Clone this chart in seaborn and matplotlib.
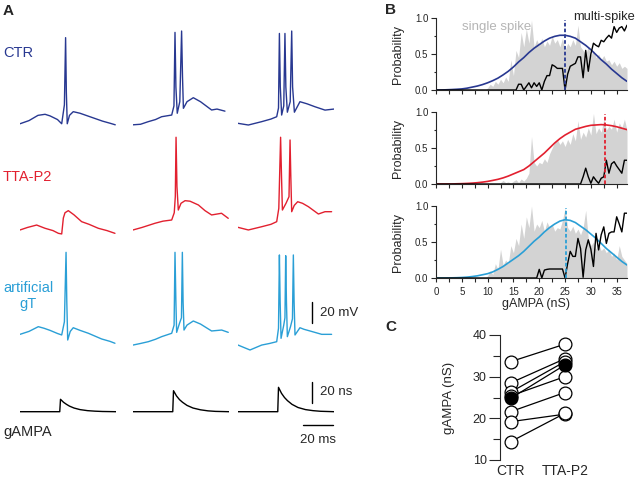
import numpy as np
import pandas as pd
import seaborn as sns
import matplotlib.pyplot as plt

W, H = 640, 479

# colours
c_ctr = "#283891"
c_tta = "#e2202f"
c_art = "#2a9fd6"
c_grey = "#d3d3d3"

# ---------------- panel A: example traces (t in ms, Vm in mV) ----------------
ctr_t = [
    [0, 6, 12, 16.7, 20, 25, 27.8, 29.6, 30.4, 30.9, 31.5, 33, 35.5, 40, 45, 50, 55, 60, 63.5],
    [0, 5, 10.2, 15, 19.1, 25.8, 27.3, 28, 28.6, 29.5, 31.2, 32.4, 33, 33.6, 36, 40.2, 45, 52.4, 56, 61.3],
    [0, 6.9, 15.8, 22, 25.8, 27.0, 27.6, 28.2, 29.1, 30.5, 31.3, 31.9, 32.9, 34.8, 35.8, 36.4, 37.6,
     41.3, 46, 51.3, 58, 64],
]
ctr_v = [
    [-75, -72, -67, -66, -67.5, -71, -75, -57, 7, -45, -75, -67, -63.5, -65, -67.5, -70, -72.5, -74.5, -76],
    [-76, -75.5, -73, -71, -68.3, -66.7, -58, 12, -40, -65, -54, 13.3, -30, -60.3, -54, -50.2, -54, -61.9, -61, -63],
    [-74.6, -76.2, -73, -70.5, -68.3, -60, 11, -40, -66.7, -58, 11, -40, -64, -54, 13.3, -40, -64,
     -54, -56, -58.8, -62, -61],
]
tta_t = [
    [0, 5, 11.1, 16.7, 22, 25.6, 27.8, 28.9, 30, 32.2, 36, 41.1, 46, 52.2, 58, 63.3],
    [0, 6, 14.7, 20, 25.8, 27.5, 28.2, 28.7, 29.3, 30.2, 32, 34.7, 38, 43.6, 48, 52.4, 59, 63.5],
    [0, 6.9, 15.8, 22, 25.8, 27.2, 28.4, 29.0, 29.6, 32, 34.0, 34.7, 35.2, 35.8, 37.5, 39.8, 43,
     46.9, 53.6, 58, 62.4],
]
tta_v = [
    [-71.4, -69, -66.7, -69.8, -72, -74.6, -75.2, -60, -55, -53, -57, -63.5, -66, -69.8, -72, -74.6],
    [-71.4, -69, -65, -63, -61.9, -55, -39.7, 16.9, -30, -52.4, -46, -43.5, -44, -47.6, -53, -57.1, -55.5, -60.3],
    [-68.9, -71.4, -68.3, -66, -63.5, -50.8, 16.9, -20, -52.4, -46, -39.7, 14.3, -20, -54, -48, -44.5, -46,
     -49.2, -56.2, -54, -54],
]
art_t = [
    [0, 6, 12.2, 16, 20, 25, 27.8, 29.6, 30.7, 31.2, 31.8, 33.5, 35.5, 40, 45.6, 50, 54.4, 60, 63.3],
    [0, 5, 10.2, 15, 19.1, 25.8, 27.4, 28.0, 28.6, 29.1, 31, 32.3, 32.9, 33.4, 34, 36, 40.2, 45, 52.4,
     59.1, 63.5],
    [0, 8, 15.8, 21, 25.8, 27.0, 27.6, 28.1, 28.7, 30.5, 31.3, 31.8, 32.3, 32.9, 35, 36.3, 36.9, 37.4,
     38, 41.3, 44, 48, 55.8, 62.4],
]
art_v = [
    [-70.8, -68, -63.5, -65, -67, -70, -71.4, -58.8, 7.3, -40, -76.2, -68, -64.5, -67, -69.8, -72.5, -75.2, -77.5, -79.3],
    [-81, -79.5, -77.8, -75.5, -73, -69.8, -62, 7.3, -40, -68.9, -60.3, -55, 7.3, -40, -66.7, -62, -58.1, -61, -67.6,
     -66.7, -68.9],
    [-81, -85.7, -81, -79.5, -77.8, -65, 4.8, -40, -74.6, -62, -55, 4.1, -40, -73, -63.5, -56, 4.8, -40,
     -71.4, -64.5, -66, -67.6, -70.8, -70.8],
]
# injected AMPA conductance (nS)
gampa_t = [0, 26.5, 27, 29, 31, 33, 36, 40, 45, 50, 55, 64]
gampa_g = [
    [0, 0, 11.8, 9, 7, 5.3, 3.5, 2, 1, 0.5, 0.2, 0],
    [0, 0, 20, 15, 11.5, 9, 6, 3.5, 1.8, 0.8, 0.3, 0],
    [0, 0, 23.2, 17.5, 13.5, 10.5, 7, 4, 2, 1, 0.4, 0],
]

# ---------------- panel B: spike probabilities vs gAMPA ----------------
prob_x = np.arange(0, 37.5, 0.5)
ctr_single = [0] * 20 + [
    0.03, 0.08, 0.05, 0.12, 0.08, 0.15, 0.10, 0.18, 0.12, 0.42,
    0.20, 0.55, 0.45, 0.80, 0.60, 0.85, 0.65, 0.97, 0.60, 0.70,
    0.62, 0.72, 0.60, 0.68, 0.62, 0.75, 0.65, 0.70, 0.60, 0.72,
    0.55, 0.65, 0.60, 0.70, 0.62, 0.90, 0.60, 0.55, 0.50, 0.60,
    0.48, 0.55, 0.45, 0.50, 0.42, 0.48, 0.40, 0.42, 0.35, 0.40,
    0.33, 0.38, 0.30, 0.33, 0.30]
ctr_multi = [0] * 31 + [
    0, 0.08, 0.08, 0, 0.05, 0.10, 0.03, 0.10, 0.05,
    0.10, 0, 0.12, 0.20, 0.20, 0.35, 0.33, 0.30, 0.30, 0.30,
    0, 0.22, 0.33, 0.35, 0.37, 0.46, 0.46, 0.17, 0.55, 0.26,
    0.50, 0.65, 0.62, 0.60, 0.69, 0.67, 0.72, 0.76, 0.72, 0.88,
    0.80, 0.86, 0.88, 0.82, 0.90]
tta_single = [0] * 25 + [
    0.02, 0.05, 0.02, 0.03, 0.01,
    0.04, 0.06, 0.02, 0.07, 0.04, 0.08, 0.15, 0.66, 0.30, 0.25,
    0.30, 0.28, 0.35, 0.30, 0.42, 0.50, 0.58, 0.62, 0.55, 0.60,
    0.52, 0.62, 0.55, 0.70, 0.60, 0.88, 0.62, 0.72, 0.65, 0.78,
    0.68, 0.98, 0.70, 0.78, 0.72, 0.90, 0.75, 0.80, 0.76, 0.90,
    0.72, 0.85, 0.78, 0.90, 0.75]
tta_multi = [0] * 57 + [
    0.10, 0.22, 0.10, 0.01, 0.10, 0.05, 0.01, 0.08, 0.10,
    0.33, 0.15, 0.28, 0.31, 0.25, 0.20, 0.15, 0.33, 0.33]
art_single = [0] * 20 + [
    0.03, 0.10, 0.05, 0.20, 0.12, 0.40, 0.18, 0.25, 0.20, 0.45,
    0.35, 0.55, 0.45, 0.75, 0.55, 0.85, 0.70, 1.00, 0.65, 0.75,
    0.70, 0.80, 0.65, 0.78, 0.70, 0.75, 0.65, 0.70, 0.68, 0.80,
    0.97, 0.70, 0.65, 0.72, 0.62, 0.68, 0.60, 0.70, 0.94, 0.55,
    0.45, 0.50, 0.40, 0.48, 0.38, 0.42, 0.35, 0.40, 0.30, 0.35,
    0.25, 0.45, 0.30, 0.25, 0.20]
art_multi = [0] * 40 + [
    0.12, 0, 0.11, 0.12, 0.125, 0.125, 0.125, 0.125, 0.125, 0.125,
    0, 0.20, 0.37, 0.30, 0.30, 0.55, 0.41, 0.01, 0.39, 0.53,
    0.40, 0.16, 0.62, 0.39, 0.60, 0.71, 0.48, 0.62, 0.64, 0.64,
    0.85, 0.75, 0.64, 0.90, 0.90]

fit_x = np.arange(0, 38)
ctr_fit = [0, 0, 0.003, 0.006, 0.01, 0.015, 0.025, 0.04, 0.055, 0.075,
           0.10, 0.13, 0.165, 0.21, 0.26, 0.32, 0.39, 0.45, 0.52, 0.58,
           0.63, 0.68, 0.72, 0.745, 0.76, 0.76, 0.745, 0.72, 0.67, 0.62,
           0.56, 0.49, 0.42, 0.36, 0.29, 0.23, 0.17, 0.12]
tta_fit = [0, 0, 0, 0, 0.003, 0.005, 0.008, 0.012, 0.018, 0.026,
           0.036, 0.05, 0.065, 0.085, 0.11, 0.14, 0.17, 0.20, 0.25, 0.31,
           0.37, 0.43, 0.50, 0.57, 0.63, 0.68, 0.72, 0.76, 0.78, 0.80,
           0.815, 0.82, 0.825, 0.82, 0.81, 0.795, 0.775, 0.755]
art_fit = [0, 0, 0, 0.002, 0.004, 0.007, 0.012, 0.02, 0.03, 0.045,
           0.06, 0.085, 0.12, 0.16, 0.21, 0.26, 0.31, 0.37, 0.44, 0.51,
           0.57, 0.64, 0.70, 0.75, 0.79, 0.81, 0.80, 0.77, 0.72, 0.67,
           0.61, 0.55, 0.48, 0.41, 0.35, 0.29, 0.23, 0.18]
threshold = [25.0, 32.8, 25.2]

# ---------------- panel C: threshold gAMPA per cell ----------------
cond_labels = ["CTR", "TTA-P2"]
gampa_ctr = [33.6, 28.5, 26.3, 24.8, 25.4, 21.6, 19.2, 14.4]
gampa_tta = [37.8, 34.3, 33.6, 32.8, 30.0, 26.2, 21.0, 21.2]
example_cell = 3

sns.set_style("ticks")
plt.rcParams["font.family"] = ["Liberation Sans", "DejaVu Sans"]
plt.rcParams["axes.linewidth"] = 0.8


def rect(x, y, w, h):
    return [x / W, 1 - (y + h) / H, w / W, h / H]


def ftext(x, y, s, **kw):
    fig.text(x / W, 1 - y / H, s, **kw)


fig = plt.figure(figsize=(6.4, 4.79), dpi=100)

# panel A ------------------------------------------------------------
col_x = [20, 133, 238]
rows = [(ctr_t, ctr_v, c_ctr, 24), (tta_t, tta_v, c_tta, 134), (art_t, art_v, c_art, 239)]
vm_axes = []
for ts, vs, col, top in rows:
    row_axes = []
    for c in range(3):
        ax = fig.add_axes(rect(col_x[c], top, 96, 115 * 1.05))
        sns.lineplot(x=ts[c], y=vs[c], ax=ax, color=col, lw=1.0, estimator=None, sort=False)
        ax.set_xlim(0, 64)
        ax.set_ylim(-95, 20)
        ax.axis("off")
        row_axes.append(ax)
    vm_axes.append(row_axes)

g_axes = []
for c in range(3):
    ax = fig.add_axes(rect(col_x[c], 380.2, 96, 45 * 1.05))
    sns.lineplot(x=gampa_t, y=gampa_g[c], ax=ax, color="black", lw=1.0, estimator=None, sort=False)
    ax.set_xlim(0, 64)
    ax.set_ylim(-15, 30)
    ax.axis("off")
    g_axes.append(ax)

# scale bars
ax = vm_axes[2][2]
ax.plot([49.3, 49.3], [-60, -40], color="black", lw=1.0, clip_on=False)
ax.text(54.7, -50, "20 mV", fontsize=9.5, va="center", ha="left")
ax = g_axes[2]
ax.plot([49.3, 49.3], [8.3, 28.3], color="black", lw=1.0, clip_on=False)
ax.text(54.7, 18.3, "20 ns", fontsize=9.5, va="center", ha="left")
ax.plot([43.3, 63.3], [-12.7, -12.7], color="black", lw=1.0, clip_on=False)
ax.text(53.3, -27, "20 ms", fontsize=9.5, va="center", ha="center")

ftext(3, 11, "A", fontsize=11, fontweight="bold", va="center")
ftext(3, 53, "CTR", fontsize=10.5, color=c_ctr, va="center")
ftext(3, 177, "TTA-P2", fontsize=10.5, color=c_tta, va="center")
ftext(28, 296, "artificial\ngT", fontsize=10.5, color=c_art, va="center", ha="center",
      linespacing=1.15)
ftext(3, 432, "gAMPA", fontsize=10.5, va="center")

# panel B ------------------------------------------------------------
panels = [(ctr_single, ctr_multi, ctr_fit, c_ctr, 18),
          (tta_single, tta_multi, tta_fit, c_tta, 112),
          (art_single, art_multi, art_fit, c_art, 206)]
for i, (single, multi, fit, col, top) in enumerate(panels):
    ax = fig.add_axes(rect(436, top, 191, 72))
    ax.fill_between(prob_x, 0, single, color=c_grey, lw=0, clip_on=False)
    sns.lineplot(x=fit_x, y=fit, ax=ax, color=col, lw=1.2, estimator=None)
    sns.lineplot(x=prob_x, y=multi, ax=ax, color="black", lw=1.0, estimator=None)
    ax.plot([threshold[i], threshold[i]], [0, 0.97], color=col, lw=1.3,
            ls=(0, (2, 1.2)), clip_on=False)
    ax.set_xlim(0, 37)
    ax.set_ylim(0, 1)
    sns.despine(ax=ax)
    ax.set_xticks(range(0, 36, 5))
    ax.set_xticks(np.arange(2.5, 37, 5), minor=True)
    ax.set_yticks([0, 0.5, 1.0], ["0.0", "0.5", "1.0"])
    ax.set_yticks([0.25, 0.75], minor=True)
    ax.tick_params(axis="x", which="both", length=2.7, width=0.8, labelsize=7, pad=4)
    ax.tick_params(axis="y", which="major", length=3.6, width=0.8, labelsize=7, pad=2)
    ax.tick_params(axis="y", which="minor", length=1.8, width=0.8)
    ax.set_ylabel("Probability", fontsize=9)
    ax.yaxis.set_label_coords(-0.168, 0.5)
    if i < 2:
        ax.set_xticklabels([])
        ax.set_xlabel("")
    else:
        ax.set_xticklabels([str(v) for v in range(0, 36, 5)])
        ax.set_xlabel("gAMPA (nS)", fontsize=9)
        ax.xaxis.set_label_coords(0.526, -0.28)
    ax.set_facecolor("none")

ftext(385, 10, "B", fontsize=11, fontweight="bold", va="center")
ftext(462, 27, "single spike", fontsize=9.5, color="#b5b5b5", va="center")
ftext(573, 17, "multi-spike", fontsize=9.3, va="center")

# panel C ------------------------------------------------------------
n = len(gampa_ctr)
df = pd.DataFrame({
    "cell": list(range(n)) * 2,
    "cond": [0] * n + [1] * n,
    "gampa": gampa_ctr + gampa_tta,
})
df["example"] = df["cell"] == example_cell

axc = fig.add_axes(rect(500, 335, 80, 125))
sns.lineplot(data=df, x="cond", y="gampa", units="cell", estimator=None, ax=axc,
             color="black", lw=0.9, zorder=1)
sns.scatterplot(data=df[~df["example"]], x="cond", y="gampa", ax=axc, s=85,
                facecolor="white", edgecolor="black", linewidth=0.9, zorder=2)
sns.scatterplot(data=df[df["example"]], x="cond", y="gampa", ax=axc, s=85,
                color="black", edgecolor="black", linewidth=0.9, zorder=3)
axc.set_xlim(-0.197, 1.28)
axc.set_ylim(10, 40)
sns.despine(ax=axc, bottom=True)
axc.set_xticks([0, 1])
axc.set_xticklabels(cond_labels)
axc.set_yticks([10, 20, 30, 40])
axc.set_yticks([15, 25, 35], minor=True)
axc.tick_params(axis="x", length=0, labelsize=10, pad=3)
axc.tick_params(axis="y", which="major", length=8, width=0.8, labelsize=9, pad=1.5)
axc.tick_params(axis="y", which="minor", length=5, width=0.8)
axc.set_xlabel("")
axc.set_ylabel("gAMPA (nS)", fontsize=9.5)
axc.yaxis.set_label_coords(-0.56, 0.5)
axc.set_facecolor("none")
for coll in axc.collections:
    coll.set_clip_on(False)

ftext(385, 327, "C", fontsize=11, fontweight="bold", va="center")

fig.savefig("out.png", dpi=100)
